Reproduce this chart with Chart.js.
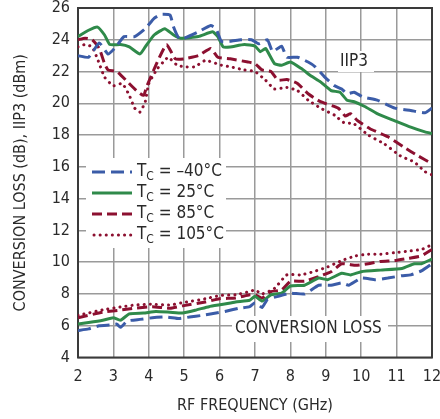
<!DOCTYPE html>
<html><head><meta charset="utf-8">
<script src="https://cdn.jsdelivr.net/npm/chart.js@4/dist/chart.umd.min.js"></script>
<style>html,body{margin:0;padding:0;background:#fff}#wrap{width:440px;height:419px}</style>
</head><body><div id="wrap"><canvas id="c" width="440" height="419"></canvas></div>
<script>
// ---- data ----
const xTicks = [2,3,4,5,6,7,8,9,10,11,12];
const yTicks = [4,6,8,10,12,14,16,18,20,22,24,26];
const legendLabels = ["–40°C","25°C","85°C","105°C"];

const iip3M40F = [2.0,2.3,2.6,2.85,3.05,3.3,3.6,3.9,4.15,4.35,4.6,4.7,4.85,5.0,5.4,5.75,5.9,6.05,6.3,6.6,6.9,7.1,7.35,7.5,7.75,7.9,8.2,8.5,8.7,8.95,9.25,9.45,9.6,9.8,10.05,10.45,10.95,11.4,11.8,12.0];
const iip3M40V = [23.0,22.9,23.8,23.1,23.5,24.2,24.2,24.7,25.35,25.6,25.55,24.8,24.1,24.1,24.5,24.9,24.7,23.9,23.9,24.0,24.0,23.75,24.0,23.25,23.6,22.9,22.9,22.6,22.3,21.7,21.1,20.9,20.6,20.7,20.4,20.2,19.7,19.55,19.4,19.7];

const iip3P25F = [2.0,2.3,2.55,2.75,2.9,3.2,3.45,3.75,3.9,4.15,4.45,4.7,4.9,5.4,5.8,5.95,6.1,6.3,6.7,7.0,7.15,7.3,7.55,7.75,8.0,8.3,8.6,8.85,9.15,9.4,9.6,9.8,10.1,10.45,10.95,11.4,11.8,12.0];
const iip3P25V = [24.2,24.6,24.8,24.3,23.7,23.7,23.55,23.1,23.55,24.3,24.7,24.3,24.1,24.2,24.5,24.2,23.55,23.55,23.7,23.6,23.25,23.45,22.5,22.4,22.6,22.2,21.7,21.35,20.8,20.7,20.2,20.1,19.8,19.35,18.9,18.5,18.2,18.1];

const iip3P85F = [2.0,2.2,2.4,2.6,2.75,2.85,3.1,3.4,3.65,3.85,3.95,4.2,4.5,4.75,5.0,5.4,5.75,5.95,6.3,6.8,7.0,7.2,7.45,7.65,7.9,8.2,8.5,8.85,9.35,9.55,9.7,9.9,10.25,10.75,11.2,11.6,12.0];
const iip3P85V = [24.0,24.1,24.0,23.45,22.5,22.1,22.0,21.35,20.8,20.5,21.1,22.4,23.7,22.8,22.8,23.0,23.45,22.9,22.8,22.6,22.5,22.1,22.0,21.45,21.5,21.25,20.6,20.1,19.7,19.2,19.35,18.9,18.4,17.9,17.25,16.7,16.2];

const iip3P105F = [2.0,2.2,2.4,2.55,2.75,3.0,3.25,3.45,3.6,3.75,3.9,4.0,4.25,4.45,4.55,4.8,5.0,5.3,5.6,6.05,6.3,6.7,7.0,7.3,7.55,7.9,8.2,8.5,8.85,9.25,9.5,9.8,10.2,10.65,11.1,11.5,11.8,12.0];
const iip3P105V = [23.55,23.7,23.55,22.8,21.65,21.1,21.25,20.5,19.7,19.45,20.1,21.25,22.2,22.7,22.9,22.4,22.3,22.3,22.7,22.4,22.3,22.1,22.0,21.45,20.9,21.0,20.8,20.2,19.7,19.25,18.8,18.7,18.0,17.45,16.7,16.3,15.7,15.5];

const clM40F = [2.0,2.3,2.6,2.9,3.1,3.2,3.4,3.75,4.1,4.5,4.85,5.15,5.5,5.9,6.15,6.55,6.85,7.0,7.2,7.35,7.65,8.0,8.4,8.8,9.15,9.45,9.65,10.0,10.4,10.75,11.15,11.4,11.7,12.0];
const clM40V = [5.7,5.8,6.0,6.05,6.1,5.9,6.3,6.4,6.5,6.55,6.45,6.55,6.65,6.8,6.9,7.1,7.2,7.45,7.15,7.65,7.85,8.05,8.0,8.55,8.55,8.7,8.55,9.0,8.9,9.0,9.15,9.2,9.45,9.9];

const clP25F = [2.0,2.3,2.7,3.0,3.2,3.45,3.85,4.2,4.6,4.95,5.35,5.7,6.1,6.45,6.85,7.0,7.2,7.45,7.75,8.0,8.4,8.8,9.05,9.45,9.7,10.0,10.55,11.15,11.5,11.7,12.0];
const clP25V = [6.1,6.2,6.35,6.5,6.35,6.75,6.8,6.9,6.85,6.8,7.0,7.2,7.35,7.5,7.6,7.85,7.55,7.95,8.05,8.5,8.55,9.0,8.9,9.3,9.2,9.4,9.5,9.6,9.9,9.9,10.2];

const clP85F = [2.0,2.7,3.25,3.6,4.1,4.6,4.95,5.6,6.0,6.45,6.85,7.0,7.2,7.45,7.75,8.0,8.4,8.8,9.15,9.45,9.85,10.2,10.55,10.95,11.35,11.7,12.0];
const clP85V = [6.5,6.85,7.0,7.1,7.2,7.1,7.25,7.5,7.7,7.75,7.95,7.95,7.75,8.15,8.25,8.8,8.8,9.1,9.4,9.9,9.8,9.9,10.05,10.1,10.25,10.4,10.8];

const clP105F = [2.0,2.7,3.25,3.6,4.1,4.6,4.95,5.6,6.0,6.45,6.85,7.0,7.2,7.55,7.9,8.3,8.65,9.05,9.45,9.85,10.2,10.55,10.95,11.35,11.7,12.0];
const clP105V = [6.65,7.0,7.2,7.3,7.35,7.3,7.45,7.7,7.9,7.95,8.15,8.25,8.0,8.35,9.2,9.2,9.4,9.7,10.1,10.4,10.5,10.5,10.6,10.7,10.8,11.1];

// ---- styles ----
const FONT = "'Liberation Sans Narrow','DejaVu Sans Condensed','Roboto Condensed',sans-serif";
const BLUE = '#3b5ca8', GREEN = '#2f8a4a', RED = '#8c1030';
const styles = [
  {c: BLUE, dash: [13,6], cap: 'butt'},
  {c: GREEN, dash: [], cap: 'butt'},
  {c: RED, dash: [10,5], cap: 'butt'},
  {c: RED, dash: [0.1,6], cap: 'round'}
];
const pts = (f, v) => f.map((x, i) => ({x, y: v[i]}));
const series = [
  [iip3M40F, iip3M40V, 0], [iip3P25F, iip3P25V, 1], [iip3P85F, iip3P85V, 2], [iip3P105F, iip3P105V, 3],
  [clM40F, clM40V, 0], [clP25F, clP25V, 1], [clP85F, clP85V, 2], [clP105F, clP105V, 3]
];
const datasets = series.map(([f, v, s]) => ({
  data: pts(f, v), showLine: true, pointRadius: 0, borderColor: styles[s].c,
  borderWidth: 3, borderDash: styles[s].dash, borderCapStyle: styles[s].cap,
  borderJoinStyle: 'round', tension: 0.15, fill: false
}));

const annot = {
  id: 'annot',
  beforeDatasetsDraw(chart) {
    const ctx = chart.ctx, a = chart.chartArea;
    ctx.save();
    ctx.fillStyle = '#fff';
    ctx.fillRect(86, 158, 140, 90);
    ctx.fillRect(338, 51, 36, 21);
    ctx.fillRect(232, 316, 156, 26);
    ctx.strokeStyle = '#3a3a3a'; ctx.lineWidth = 2;
    ctx.strokeRect(a.left, a.top, a.right - a.left, a.bottom - a.top);
    ctx.fillStyle = '#2a2a2a';
    ctx.textBaseline = 'middle'; ctx.textAlign = 'left';
    ctx.font = '17px ' + FONT;
    ctx.fillText('IIP3', 340, 62);
    ctx.fillText('CONVERSION LOSS', 235, 329);
    const ys = [172, 193, 214, 235];
    ys.forEach((y, i) => {
      const s = styles[i];
      ctx.strokeStyle = s.c; ctx.lineWidth = 3;
      ctx.setLineDash(s.dash); ctx.lineCap = s.cap;
      ctx.beginPath(); ctx.moveTo(s.cap === 'round' ? 94 : 92, y); ctx.lineTo(132, y); ctx.stroke();
      ctx.setLineDash([]); ctx.lineCap = 'butt';
      ctx.fillStyle = '#2a2a2a';
      ctx.font = '17px ' + FONT;
      ctx.fillText('T', 137, y);
      let x = 137 + ctx.measureText('T').width;
      ctx.font = '12px ' + FONT;
      ctx.fillText('C', x, y + 5);
      x += ctx.measureText('C').width;
      ctx.font = '17px ' + FONT;
      ctx.fillText(' = ' + legendLabels[i], x, y);
    });
    ctx.restore();
  }
};

new Chart(document.getElementById('c'), {
  type: 'scatter',
  data: {datasets},
  plugins: [annot],
  options: {
    responsive: false, animation: false, devicePixelRatio: 1,
    layout: {padding: {left: 0, right: 8, top: 8, bottom: 0}},
    plugins: {legend: {display: false}, tooltip: {enabled: false}},
    scales: {
      x: {
        type: 'linear', min: 2, max: 12,
        afterBuildTicks: s => { s.ticks = xTicks.map(v => ({value: v})); },
        afterFit: s => { s.height = 61.5; s.paddingLeft = 0; s.paddingRight = 0; },
        grid: {color: '#9a9a9a', lineWidth: 1.5, drawTicks: false},
        border: {display: false},
        ticks: {color: '#2a2a2a', font: {family: FONT, size: 16}, padding: 10, maxRotation: 0},
        title: {display: true, text: 'RF FREQUENCY (GHz)', color: '#2a2a2a', font: {family: FONT, size: 16}, padding: {top: 0, bottom: 4}}
      },
      y: {
        type: 'linear', min: 4, max: 26,
        afterBuildTicks: s => { s.ticks = yTicks.map(v => ({value: v})); },
        afterFit: s => { s.width = 78; s.paddingTop = 0; s.paddingBottom = 0; },
        grid: {color: '#9a9a9a', lineWidth: 1.5, drawTicks: false},
        border: {display: false},
        ticks: {color: '#2a2a2a', font: {family: FONT, size: 16}, padding: 8},
        title: {display: true, text: 'CONVERSION LOSS (dB), IIP3 (dBm)', color: '#2a2a2a', font: {family: FONT, size: 16}, padding: {top: 11, bottom: 0}}
      }
    }
  }
});
</script></body></html>
